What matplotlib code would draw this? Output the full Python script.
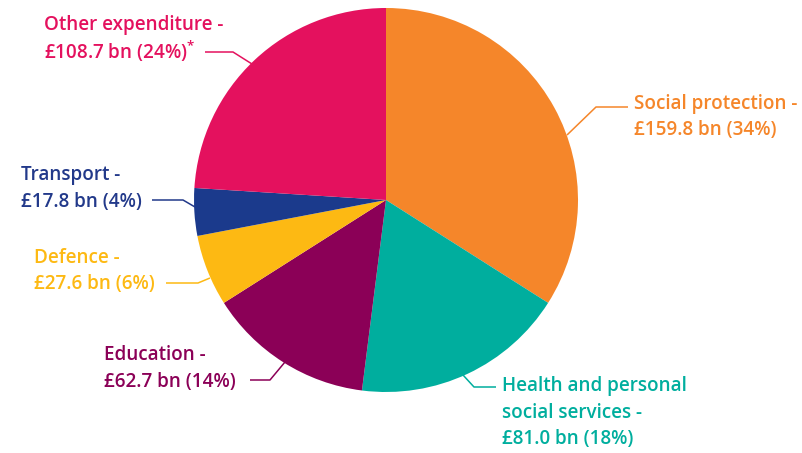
# -*- coding: utf-8 -*-
"""Public expenditure breakdown pie chart with side labels."""

import matplotlib.pyplot as plt

W, H = 802, 453

categories = [
    "Social protection",
    "Health and personal\nsocial services",
    "Education",
    "Defence",
    "Transport",
    "Other expenditure",
]
values_bn = [159.8, 81.0, 62.7, 27.6, 17.8, 108.7]
shares_pct = [34, 18, 14, 6, 4, 24]
colors = ["#F5862A", "#00AE9E", "#8B0057", "#FDB913", "#1B3A8C", "#E4115E"]
text_colors = ["#F5862A", "#00AE9E", "#8B0057", "#FDB913", "#22398A", "#E4115E"]


def fy(y):
    # convert top-down pixel rows to axis coordinates
    return H - y


def build():
    plt.rcParams["font.family"] = ["Open Sans", "DejaVu Sans"]
    plt.rcParams["mathtext.default"] = "regular"
    fig = plt.figure(figsize=(W / 100, H / 100), dpi=100)
    ax = fig.add_axes([0, 0, 1, 1])

    ax.pie(
        shares_pct,
        colors=colors,
        startangle=90,
        counterclock=False,
        center=(386, fy(200)),
        radius=192,
        frame=True,
        wedgeprops=dict(linewidth=0),
    )
    ax.set_xlim(0, W)
    ax.set_ylim(0, H)
    ax.set_aspect("equal")
    ax.axis("off")

    # label anchor (left x, first line y) and leader path for each slice
    layout = [
        ((634, 104), [(567, 135), (596, 107), (628, 107)], ""),
        ((502, 386), [(463, 375), (474, 387), (496, 387)], ""),
        ((104, 355), [(250, 380), (270, 380), (285, 362)], ""),
        ((34, 258), [(166, 283), (198, 283), (210, 278)], ""),
        ((21, 175), [(152, 200), (183, 200), (195, 207)], ""),
        ((44, 25), [(205, 52), (233, 52), (252, 64)], "$^{*}$"),
    ]

    for name, val, pct, tc, (pos, path, mark) in zip(
        categories, values_bn, shares_pct, text_colors, layout
    ):
        lines = (name + " -").split("\n") + [f"£{val:.1f} bn ({pct}%)" + mark]
        x0, y0 = pos
        for i, line in enumerate(lines):
            ax.text(x0, fy(y0 + 26.5 * i), line, fontsize=13.6, color=tc,
                    fontweight="semibold", ha="left", va="center")
        xs = [p[0] for p in path]
        ys = [fy(p[1]) for p in path]
        ax.plot(xs, ys, color=tc, lw=1.1, solid_capstyle="butt")

    fig.savefig("out.png", dpi=100, facecolor="white")
    plt.close(fig)


if __name__ == "__main__":
    build()
